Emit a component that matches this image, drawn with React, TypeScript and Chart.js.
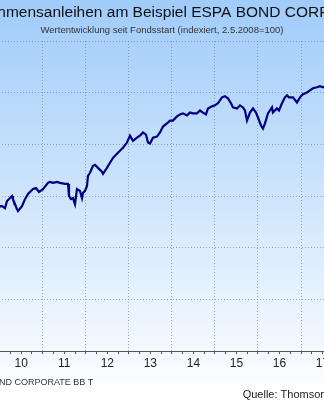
import React, { useEffect, useRef } from 'react';
import { Chart, registerables } from 'chart.js';

Chart.register(...registerables);

const TITLE = 'Unternehmensanleihen am Beispiel ESPA BOND CORPORATE';
const SUBTITLE = 'Wertentwicklung seit Fondsstart (indexiert, 2.5.2008=100)';
const SERIES_LABEL = 'ESPA BOND CORPORATE BB T';
const SOURCE = 'Quelle: Thomson Reuters';

// decimal years
const dates = [
  2008.333, 2008.5, 2008.667, 2008.75, 2008.833, 2008.917, 2009.0, 2009.167, 2009.333, 2009.5, 2009.667, 2009.833, 2009.95,
  2010.007, 2010.053, 2010.123, 2010.170, 2010.286, 2010.309, 2010.402, 2010.425, 2010.518, 2010.588, 2010.657, 2010.774, 2010.843, 2010.913,
  2011.006, 2011.122, 2011.168, 2011.238, 2011.331, 2011.401, 2011.517, 2011.587, 2011.610, 2011.656, 2011.703, 2011.749, 2011.796, 2011.865, 2011.912, 2011.935, 2011.981,
  2012.028, 2012.051, 2012.098, 2012.167, 2012.214, 2012.283, 2012.376, 2012.400, 2012.492, 2012.562, 2012.632, 2012.725, 2012.794, 2012.864, 2012.957,
  2013.027, 2013.096, 2013.189, 2013.259, 2013.329, 2013.399, 2013.445, 2013.491, 2013.561, 2013.654, 2013.724, 2013.794, 2013.886, 2013.956,
  2014.026, 2014.118, 2014.188, 2014.258, 2014.351, 2014.421, 2014.490, 2014.583, 2014.653, 2014.722, 2014.792, 2014.839, 2014.931,
  2015.001, 2015.071, 2015.164, 2015.233, 2015.303, 2015.373, 2015.419, 2015.512, 2015.582, 2015.652, 2015.698, 2015.745, 2015.814, 2015.884, 2015.954,
  2016.000, 2016.070, 2016.116, 2016.163, 2016.232, 2016.325, 2016.348, 2016.441, 2016.488, 2016.557, 2016.627, 2016.674, 2016.720, 2016.813, 2016.906, 2016.976,
  2017.045, 2017.138, 2017.208, 2017.278, 2017.371, 2017.440, 2017.510, 2017.600,
];

const values = [
  100, 99.5, 96, 90, 81, 77, 79, 80, 90, 100, 107, 112, 114.5,
  116.1, 116.1, 115.3, 118.1, 120.0, 118.8, 114.9, 114.2, 116.1, 118.8, 120.8, 122.7, 123.1, 121.6,
  122.7, 125.1, 125.5, 125.1, 125.5, 125.1, 124.7, 124.7, 120.0, 118.8, 119.2, 116.9, 122.7, 122.0, 119.2, 121.2, 122.0,
  123.9, 127.8, 129.0, 131.7, 132.1, 130.9, 129.4, 128.6, 130.9, 132.9, 134.8, 136.4, 137.5, 138.7, 140.7,
  143.4, 141.4, 142.6, 143.4, 144.6, 143.8, 140.7, 140.3, 142.6, 143.0, 144.6, 146.9, 148.1, 149.2,
  149.2, 150.8, 151.6, 152.0, 151.2, 152.3, 152.0, 152.0, 153.1, 152.3, 151.6, 153.9, 154.7,
  155.1, 155.9, 158.2, 158.6, 157.8, 155.9, 154.3, 153.9, 155.1, 154.3, 153.1, 149.2, 152.3, 153.9, 152.3,
  150.4, 147.3, 146.1, 148.1, 152.0, 154.3, 152.3, 153.9, 153.1, 155.9, 158.2, 159.0, 158.2, 158.2, 156.2, 158.2,
  159.4, 160.1, 160.9, 161.7, 162.1, 162.5, 162.1, 162.8,
];

const yTicks = [60, 80, 100, 120, 140, 160, 180];
const xRange = [2008.25, 2017.75];

const FONT = "'Liberation Sans', Arial, sans-serif";

export default function App() {
  const ref = useRef<HTMLCanvasElement | null>(null);

  useEffect(() => {
    if (!ref.current) return;
    const bgPlugin = {
      id: 'bg',
      beforeDraw(chart: any) {
        const { ctx, width, height } = chart;
        const g = ctx.createLinearGradient(0, 0, 0, height);
        g.addColorStop(0, '#a0ccfa');
        g.addColorStop(1, '#ffffff');
        ctx.save();
        ctx.fillStyle = g;
        ctx.fillRect(0, 0, width, height);
        ctx.restore();
      },
    };
    const sourcePlugin = {
      id: 'source',
      afterDraw(chart: any) {
        const { ctx, width } = chart;
        ctx.save();
        ctx.font = `11px ${FONT}`;
        ctx.fillStyle = '#222';
        ctx.textAlign = 'right';
        ctx.textBaseline = 'alphabetic';
        ctx.fillText(SOURCE, width - 44, 397.5);
        ctx.restore();
      },
    };
    const gridColor = 'rgba(105,118,140,0.6)';
    const chart = new Chart(ref.current, {
      type: 'line',
      data: {
        datasets: [
          {
            label: SERIES_LABEL,
            data: dates.map((d, i) => ({ x: d, y: values[i] })),
            borderColor: '#000080',
            backgroundColor: '#000080',
            borderWidth: 2.2,
            pointRadius: 0,
            tension: 0,
            fill: false,
          },
        ],
      },
      options: {
        animation: false,
        responsive: false,
        devicePixelRatio: 1,
        layout: { padding: { left: 9, right: 9, top: 0, bottom: 2.9 } },
        plugins: {
          title: {
            display: true,
            text: TITLE,
            color: '#111',
            font: { family: FONT, size: 15.5, weight: 'normal' },
            padding: { top: 3.2, bottom: 0 },
          },
          subtitle: {
            display: true,
            text: SUBTITLE,
            color: '#333',
            font: { family: FONT, size: 9.5 },
            padding: { top: 2.5, bottom: 5.3 },
          },
          legend: {
            display: true,
            position: 'bottom',
            align: 'start',
            labels: {
              color: '#333',
              font: { family: FONT, size: 9 },
              boxWidth: 30,
              boxHeight: 2,
              padding: 4.6,
            },
          },
          tooltip: { enabled: false },
        },
        scales: {
          x: {
            type: 'linear',
            min: xRange[0],
            max: xRange[1],
            afterFit: undefined,
            ticks: {
              stepSize: 0.25,
              autoSkip: false,
              maxRotation: 0,
              minRotation: 0,
              padding: 2.5,
              color: '#222',
              font: { family: FONT, size: 12 },
              callback: (v: any) => {
                const n = Number(v);
                const f = n - Math.floor(n);
                return Math.abs(f - 0.5) < 1e-6 ? String(Math.floor(n) % 100).padStart(2, '0') : '';
              },
            },
            grid: {
              color: (c: any) => (c.tick && Number.isInteger(c.tick.value) ? gridColor : 'rgba(0,0,0,0)'),
              lineWidth: 1,
              tickLength: 3,
              tickColor: '#555',
              borderDash: [1, 2],
            } as any,
            border: { display: true, color: '#555', width: 1, dash: [1, 2] } as any,
          },
          y: {
            type: 'linear',
            min: yTicks[0],
            max: yTicks[yTicks.length - 1],
            afterFit: (s: any) => { s.width = 3.36; },
            ticks: { display: false, stepSize: 20 },
            grid: { color: gridColor, drawTicks: false, borderDash: [1, 2] } as any,
            border: { display: false, dash: [1, 2] } as any,
          },
          y2: {
            type: 'linear',
            position: 'right',
            afterFit: (s: any) => { s.width = 69.7; },
            ticks: { display: false },
            grid: { drawOnChartArea: false, drawTicks: false },
            border: { display: false },
          },
        },
      } as any,
      plugins: [bgPlugin, sourcePlugin],
    });
    return () => chart.destroy();
  }, []);

  return (
    <div style={{ position: 'fixed', left: 0, top: 0, width: 324, height: 400, overflow: 'hidden' }}>
      <canvas
        ref={ref}
        width={500}
        height={400}
        style={{ position: 'absolute', left: -88, top: 0, width: 500, height: 400 }}
      />
    </div>
  );
}
